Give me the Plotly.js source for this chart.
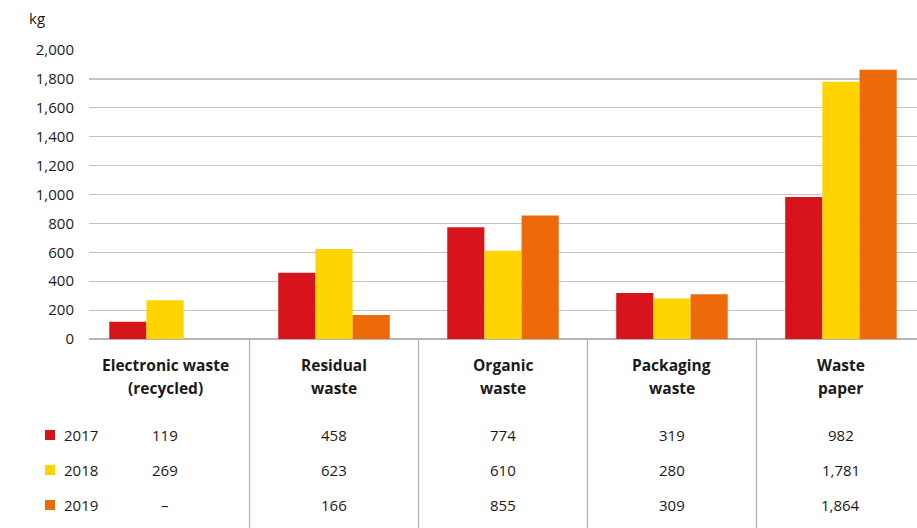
<!DOCTYPE html>
<html>
<head>
<meta charset="utf-8">
<script src="https://cdn.plot.ly/plotly-3.0.1.min.js"></script>
<style>
  html, body { margin: 0; padding: 0; background: #fff; }
  #chart { width: 917px; height: 528px; }
</style>
</head>
<body>
<div id="chart"></div>
<script>
// Waste quantities per category, kg
const categories = [
  ["Electronic waste", "(recycled)"],
  ["Residual", "waste"],
  ["Organic", "waste"],
  ["Packaging", "waste"],
  ["Waste", "paper"]
];
const years = ["2017", "2018", "2019"];
const values2017 = [119, 458, 774, 319, 982];
const values2018 = [269, 623, 610, 280, 1781];
const values2019 = [null, 166, 855, 309, 1864];
const yTicks = [0, 200, 400, 600, 800, 1000, 1200, 1400, 1600, 1800, 2000];

const seriesValues = [values2017, values2018, values2019];
const colors = ["#d7141b", "#ffd400", "#ed6a0a"];

const W = 917, H = 528;
const M = { l: 89, r: 0, t: 50, b: 189 };
const plotW = W - M.l - M.r;
const plotH = H - M.t - M.b;
const baseY = H - M.b;           // pixel row of the zero line
const px = x => (x - M.l) / plotW;      // pixel -> paper x
const py = y => (baseY - y) / plotH;    // pixel -> paper y

const FONT = "Open Sans, Noto Sans, sans-serif";
const fmt = v => v == null ? "\u2013" : v.toLocaleString("en-US");

const xIdx = categories.map((_, i) => i);

const traces = years.map((yr, k) => ({
  type: "bar",
  name: yr,
  x: xIdx,
  y: seriesValues[k],
  marker: { color: colors[k], line: { width: 0 } },
  hoverinfo: "skip"
}));

const annotations = [];
const shapes = [];

// unit label
annotations.push({
  xref: "paper", yref: "paper", x: px(27), y: py(18),
  xanchor: "left", yanchor: "middle", showarrow: false,
  text: "kg", font: { family: FONT, size: 15, color: "#1a1a1a" }
});

// category headings under the bars
categories.forEach((lines, i) => {
  [365, 388].forEach((yy, j) => {
    annotations.push({
      xref: "x", yref: "paper", x: i, y: py(yy),
      xanchor: "center", yanchor: "middle", showarrow: false,
      text: "<b>" + lines[j] + "</b>",
      font: { family: FONT, size: 15.5, color: "#1a1a1a" }
    });
  });
});

// value table with year keys
const rowY = [435, 470, 505];
years.forEach((yr, k) => {
  shapes.push({
    type: "rect", xref: "paper", yref: "paper",
    x0: px(45), x1: px(55), y0: py(rowY[k] + 5), y1: py(rowY[k] - 5),
    fillcolor: colors[k], line: { width: 0 }
  });
  annotations.push({
    xref: "paper", yref: "paper", x: px(62), y: py(rowY[k]),
    xanchor: "left", yanchor: "middle", showarrow: false,
    text: yr, font: { family: FONT, size: 15, color: "#1a1a1a" }
  });
  seriesValues[k].forEach((v, i) => {
    annotations.push({
      xref: "x", yref: "paper", x: i, y: py(rowY[k]),
      xanchor: "center", yanchor: "middle", showarrow: false,
      text: fmt(v), font: { family: FONT, size: 15, color: "#1a1a1a" }
    });
  });
});

// column separators
for (let i = 0; i < categories.length - 1; i++) {
  shapes.push({
    type: "line", xref: "x", yref: "paper",
    x0: i + 0.5, x1: i + 0.5, y0: 0, y1: py(H),
    line: { color: "#b4b4b4", width: 1.3 }
  });
}

const layout = {
  width: W, height: H,
  margin: M,
  paper_bgcolor: "#fff", plot_bgcolor: "#fff",
  barmode: "group",
  bargap: 0.34, bargroupgap: 0,
  showlegend: false,
  xaxis: {
    range: [-0.45, 4.45],
    showticklabels: false, showgrid: false, zeroline: false,
    showline: false, ticks: "", fixedrange: true
  },
  yaxis: {
    range: [0, 2000],
    tickvals: yTicks,
    ticktext: yTicks.map(v => v.toLocaleString("en-US")),
    showgrid: true, gridcolor: "#c4c4c4", gridwidth: 1.2,
    zeroline: true, zerolinecolor: "#b4b4b4", zerolinewidth: 1.3,
    showline: false, ticks: "",
    ticklabelstandoff: 14,
    tickfont: { family: FONT, size: 15, color: "#1a1a1a" },
    fixedrange: true
  },
  annotations, shapes
};

Plotly.newPlot("chart", traces, layout, { staticPlot: true, displayModeBar: false });
</script>
</body>
</html>
